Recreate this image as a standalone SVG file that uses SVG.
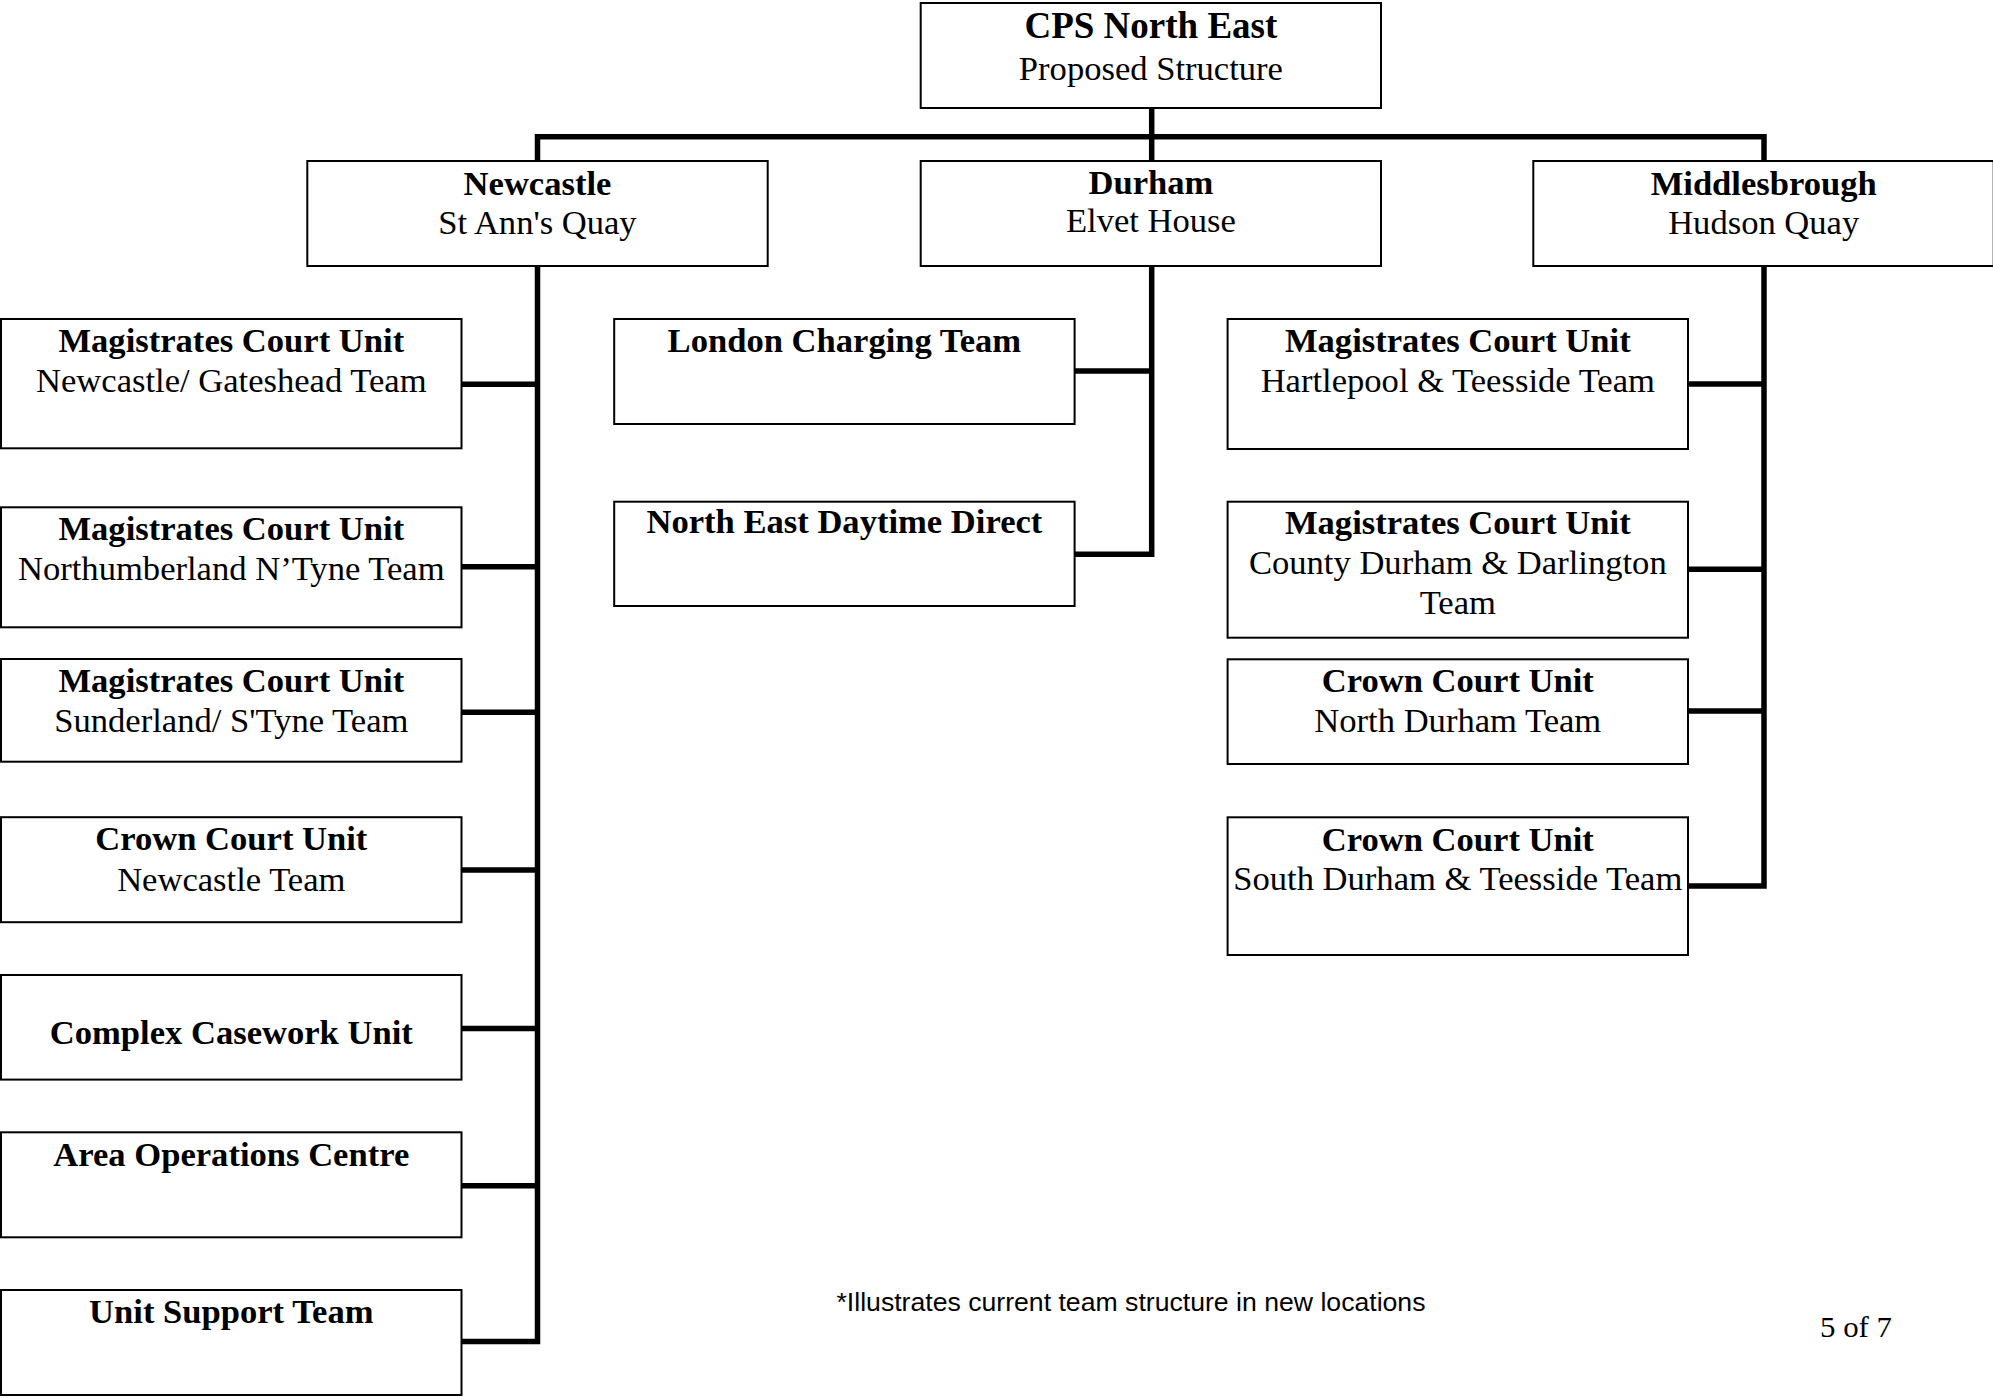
<svg xmlns="http://www.w3.org/2000/svg" width="1993" height="1399" viewBox="0 0 1993 1399">
<style>
.box{fill:#fff;stroke:#000;stroke-width:2}
.t{font-family:"Liberation Serif","Times New Roman",serif;font-size:34.6px;text-anchor:middle;fill:#000}
.b{font-weight:bold}
.con{fill:none;stroke:#000;stroke-width:5.5;stroke-linejoin:miter;stroke-linecap:butt}
.note{font-family:"Liberation Sans",Arial,sans-serif;font-size:26px;fill:#000}
</style>
<rect width="1993" height="1399" fill="#fff"/>
<g id="connectors">
<path class="con" d="M1151.7 108 V161"/>
<path class="con" d="M537.5 161 V136.7 H1764 V161"/>
<path class="con" d="M537.5 266 V1341.6 H461.5"/>
<path class="con" d="M461.5 384.3 H537.5 M461.5 566.7 H537.5 M461.5 712.3 H537.5 M461.5 869.9 H537.5 M461.5 1028.4 H537.5 M461.5 1185.8 H537.5"/>
<path class="con" d="M1151.7 266 V554.3 H1074.6"/>
<path class="con" d="M1074.6 371 H1151.7"/>
<path class="con" d="M1764 266 V886 H1688"/>
<path class="con" d="M1688 384 H1764 M1688 569.3 H1764 M1688 711 H1764"/>
</g>
<g id="cps">
<rect class="box" x="920.7" y="3" width="460.3" height="105"/>
<text class="t b" x="1150.9" y="38" style="font-size:37px">CPS North East</text>
<text class="t" x="1150.9" y="80">Proposed Structure</text>
</g>
<g id="newcastle">
<rect class="box" x="307.3" y="161" width="460.4" height="105"/>
<text class="t b" x="537.5" y="195">Newcastle</text>
<text class="t" x="537.5" y="234">St Ann's Quay</text>
</g>
<g id="durham">
<rect class="box" x="920.7" y="161" width="460.3" height="105"/>
<text class="t b" x="1150.9" y="194">Durham</text>
<text class="t" x="1150.9" y="232">Elvet House</text>
</g>
<g id="middlesbrough">
<rect class="box" x="1533.3" y="161" width="460.4" height="105"/>
<text class="t b" x="1763.7" y="195">Middlesbrough</text>
<text class="t" x="1763.7" y="234">Hudson Quay</text>
</g>
<g id="mcu-newcastle">
<rect class="box" x="1" y="319" width="460.5" height="129.3"/>
<text class="t b" x="231.3" y="351.7">Magistrates Court Unit</text>
<text class="t" x="231.3" y="391.7">Newcastle/ Gateshead Team</text>
</g>
<g id="mcu-northumberland">
<rect class="box" x="1" y="507.3" width="460.5" height="120"/>
<text class="t b" x="231.3" y="540">Magistrates Court Unit</text>
<text class="t" x="231.3" y="580">Northumberland N’Tyne Team</text>
</g>
<g id="mcu-sunderland">
<rect class="box" x="1" y="659" width="460.5" height="102.7"/>
<text class="t b" x="231.3" y="691.7">Magistrates Court Unit</text>
<text class="t" x="231.3" y="731.7">Sunderland/ S'Tyne Team</text>
</g>
<g id="ccu-newcastle">
<rect class="box" x="1" y="817.2" width="460.5" height="105"/>
<text class="t b" x="231.3" y="850.4">Crown Court Unit</text>
<text class="t" x="231.3" y="890.9">Newcastle Team</text>
</g>
<g id="complex-casework">
<rect class="box" x="1" y="975" width="460.5" height="104.6"/>
<text class="t b" x="231.3" y="1043.7">Complex Casework Unit</text>
</g>
<g id="area-operations">
<rect class="box" x="1" y="1132.3" width="460.5" height="105"/>
<text class="t b" x="231.3" y="1165.5">Area Operations Centre</text>
</g>
<g id="unit-support">
<rect class="box" x="1" y="1290" width="460.5" height="105"/>
<text class="t b" x="231.3" y="1322.5">Unit Support Team</text>
</g>
<g id="london-charging">
<rect class="box" x="614.2" y="319" width="460.4" height="105"/>
<text class="t b" x="844.4" y="351.7">London Charging Team</text>
</g>
<g id="ne-daytime-direct">
<rect class="box" x="614.2" y="501.7" width="460.4" height="104.3"/>
<text class="t b" x="844.4" y="533.3">North East Daytime Direct</text>
</g>
<g id="mcu-hartlepool">
<rect class="box" x="1227.6" y="319" width="460.4" height="130"/>
<text class="t b" x="1457.8" y="351.7">Magistrates Court Unit</text>
<text class="t" x="1457.8" y="391.7">Hartlepool &amp; Teesside Team</text>
</g>
<g id="mcu-county-durham">
<rect class="box" x="1227.6" y="501.7" width="460.4" height="136"/>
<text class="t b" x="1457.8" y="534">Magistrates Court Unit</text>
<text class="t" x="1457.8" y="574">County Durham &amp; Darlington</text>
<text class="t" x="1457.8" y="614">Team</text>
</g>
<g id="ccu-north-durham">
<rect class="box" x="1227.6" y="659.3" width="460.4" height="104.7"/>
<text class="t b" x="1457.8" y="692.3">Crown Court Unit</text>
<text class="t" x="1457.8" y="731.7">North Durham Team</text>
</g>
<g id="ccu-south-durham">
<rect class="box" x="1227.6" y="817.3" width="460.4" height="137.7"/>
<text class="t b" x="1457.8" y="850.7">Crown Court Unit</text>
<text class="t" x="1457.8" y="890">South Durham &amp; Teesside Team</text>
</g>
<text class="note" x="836.5" y="1311" textLength="589" lengthAdjust="spacingAndGlyphs">*Illustrates current team structure in new locations</text>
<text x="1820" y="1337.3" font-family="'Liberation Serif','Times New Roman',serif" font-size="30" textLength="72" lengthAdjust="spacingAndGlyphs">5 of 7</text>
</svg>
